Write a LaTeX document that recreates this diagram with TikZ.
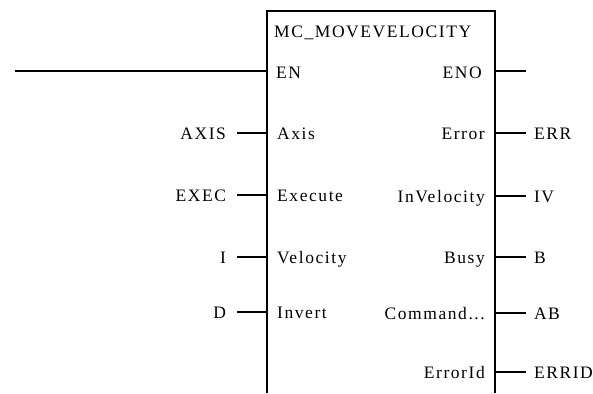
\documentclass[tikz,border=0pt]{standalone}
\usepackage{fontspec}
\setmainfont{Liberation Serif}[LetterSpace=9]
\begin{document}
\begin{tikzpicture}[x=1pt,y=-1pt,
  wire/.style={line width=1.2pt,black},
  lbl/.style={font=\fontsize{17.5}{17.5}\selectfont},
  pinin/.style={lbl,anchor=base west,inner sep=0pt},
  pinout/.style={lbl,anchor=base east,inner sep=0pt},
  varin/.style={lbl,anchor=base east,inner ysep=0pt,inner xsep=11pt,outer sep=0pt},
  varout/.style={lbl,anchor=base west,inner ysep=0pt,inner xsep=8pt,outer sep=0pt}]
\useasboundingbox (0,0) rectangle (593,393);

% function block outline (open at the bottom)
\draw[wire] (267,393) -- (267,11) -- (495,11) -- (495,393);
\node[lbl,anchor=base west,inner sep=0pt] (title) at (274,38) {MC\_MOVEVELOCITY};

% pin points on the block edges
\coordinate (pEN) at (267,71);
\coordinate (pAxis) at (267,133);
\coordinate (pExec) at (267,195);
\coordinate (pVel) at (267,257);
\coordinate (pInv) at (267,312);
\coordinate (pENO) at (495,71);
\coordinate (pErr) at (495,133);
\coordinate (pInVel) at (495,196);
\coordinate (pBusy) at (495,257);
\coordinate (pCmd) at (495,313);
\coordinate (pErrId) at (495,372);
\coordinate (enStart) at (15,71);
\coordinate (enoEnd) at (526,71);

% pin names inside the block
\node[pinin] (nEN) at ([xshift=9pt,yshift=-7pt]pEN) {EN};
\node[pinin] (nAxis) at ([xshift=10pt,yshift=-6pt]pAxis) {Axis};
\node[pinin] (nExec) at ([xshift=10pt,yshift=-6pt]pExec) {Execute};
\node[pinin] (nVel) at ([xshift=10pt,yshift=-6pt]pVel) {Velocity};
\node[pinin] (nInv) at ([xshift=10pt,yshift=-6pt]pInv) {Invert};
\node[pinout] (nENO) at ([xshift=-13pt,yshift=-7pt]pENO) {ENO};
\node[pinout] (nErr) at ([xshift=-10pt,yshift=-6pt]pErr) {Error};
\node[pinout] (nInVel) at ([xshift=-10pt,yshift=-6pt]pInVel) {InVelocity};
\node[pinout] (nBusy) at ([xshift=-10pt,yshift=-6pt]pBusy) {Busy};
\node[pinout] (nCmd) at ([xshift=-10pt,yshift=-6pt]pCmd) {Command...};
\node[pinout] (nErrId) at ([xshift=-10pt,yshift=-6pt]pErrId) {ErrorId};

% connected variables
\node[varin] (vAxis) at ([xshift=-30pt,yshift=-6pt]pAxis) {AXIS};
\node[varin] (vExec) at ([xshift=-30pt,yshift=-6pt]pExec) {EXEC};
\node[varin] (vVel) at ([xshift=-30pt,yshift=-6pt]pVel) {I};
\node[varin] (vInv) at ([xshift=-30pt,yshift=-6pt]pInv) {D};
\node[varout] (vErr) at ([xshift=31pt,yshift=-6pt]pErr) {ERR};
\node[varout] (vInVel) at ([xshift=31pt,yshift=-6pt]pInVel) {IV};
\node[varout] (vBusy) at ([xshift=31pt,yshift=-6pt]pBusy) {B};
\node[varout] (vCmd) at ([xshift=31pt,yshift=-6pt]pCmd) {AB};
\node[varout] (vErrId) at ([xshift=31pt,yshift=-6pt]pErrId) {ERRID};

% wires
\draw[wire] (enStart) -- (pEN);
\draw[wire] (pENO) -- (enoEnd);
\foreach \p/\v in {pAxis/vAxis,pExec/vExec,pVel/vVel,pInv/vInv}
  \draw[wire] (\p) -- (\p -| \v.east);
\foreach \p/\v in {pErr/vErr,pInVel/vInVel,pBusy/vBusy,pCmd/vCmd,pErrId/vErrId}
  \draw[wire] (\p) -- (\p -| \v.west);
\end{tikzpicture}
\end{document}
